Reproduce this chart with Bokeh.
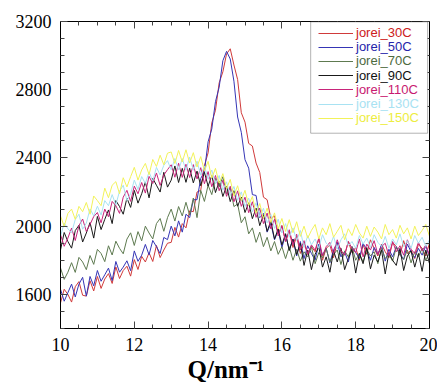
from bokeh.plotting import figure
from bokeh.models import (LinearAxis, SingleIntervalTicker, Range1d, Legend,
                          LegendItem, BoxAnnotation, CustomJSTickFormatter, Title)
from bokeh.embed import file_html
from bokeh.resources import INLINE

# Q grid (nm^-1)
q = [round(10 + 0.1 * i, 1) for i in range(101)]

labels = ["jorei_30C", "jorei_50C", "jorei_70C", "jorei_90C",
          "jorei_110C", "jorei_130C", "jorei_150C"]

s30 = [1550, 1630, 1600, 1555, 1645, 1675, 1595, 1590, 1680, 1620,
       1705, 1635, 1690, 1722, 1664, 1761, 1693, 1740, 1765, 1707,
       1804, 1746, 1823, 1790, 1844, 1793, 1887, 1816, 1860, 1900,
       1905, 1993, 1936, 2015, 1990, 2090, 2085, 2200, 2210, 2355,
       2430, 2605, 2680, 2840, 2905, 3010, 3040, 2945, 2860, 2665,
       2610, 2485, 2470, 2370, 2315, 2170, 2155, 2045, 2060, 1955,
       2005, 1910, 1970, 1875, 1940, 1840,
       1900, 1835, 1880, 1850, 1925, 1800, 1870, 1890, 1815, 1905,
       1860, 1830, 1910, 1845, 1875, 1800, 1890, 1835, 1920, 1870,
       1825, 1895, 1850, 1815, 1905, 1880, 1830, 1915, 1840, 1860,
       1810, 1895, 1870, 1825, 1900]

s50 = [1630, 1560, 1610, 1660, 1585, 1660, 1700, 1590, 1705, 1650,
       1740, 1677, 1715, 1754, 1681, 1793, 1730, 1760, 1797, 1739,
       1855, 1794, 1830, 1893, 1832, 1916, 1880, 1840, 1934, 1921,
       2000, 1943, 2031, 1965, 2070, 2050, 2155, 2155, 2280, 2320,
       2495, 2570, 2730, 2815, 2970, 3025, 2980, 2850, 2640, 2550,
       2390, 2340, 2185, 2180, 2050, 2075, 1965, 2015, 1920, 1975,
       1875, 1950, 1860, 1925, 1825, 1910,
       1810, 1885, 1840, 1800, 1895, 1830, 1870, 1785, 1860, 1905,
       1820, 1850, 1790, 1880, 1845, 1810, 1900, 1860, 1800, 1875,
       1835, 1890, 1795, 1865, 1820, 1880, 1840, 1805, 1895, 1850,
       1815, 1870, 1830, 1885, 1820]

s70 = [1755, 1688, 1730, 1786, 1729, 1817, 1790, 1745, 1828, 1776,
       1864, 1840, 1792, 1885, 1831, 1912, 1870, 1838, 1924, 1961,
       1887, 1968, 1914, 2000, 1960, 1925, 2015, 2045, 1970, 2050,
       2100, 2030, 2115, 2060, 2140, 2065, 2165, 2050, 2210, 2145,
       2240, 2185, 2280, 2230, 2290, 2190, 2225, 2115, 2130, 2020,
       2055, 1955, 1990, 1905, 1965, 1880, 1935, 1855, 1910, 1835,
       1880, 1810, 1880, 1800,
       1865, 1795, 1850, 1820, 1880, 1780, 1845, 1815, 1870, 1790,
       1835, 1860, 1775, 1855, 1820, 1880, 1800, 1840, 1790, 1865,
       1825, 1850, 1780, 1870, 1810, 1835, 1795, 1875, 1830, 1805,
       1860, 1785, 1850, 1820, 1870, 1800, 1845]

s90 = [1860, 1963, 1910, 1871, 1974, 2005, 1907, 1960, 2021, 1930,
       2057, 1980, 2040, 2095, 2015, 2150, 2115, 2070, 2165, 2110,
       2210, 2135, 2190, 2259, 2166, 2280, 2240, 2200, 2316, 2229,
       2270, 2353, 2256, 2339, 2257, 2340, 2254, 2323, 2237, 2316,
       2235, 2296, 2197, 2263, 2174, 2235, 2144, 2208, 2117, 2171,
       2080, 2137, 2044, 2106, 2003, 2065, 1970, 2030, 1925, 1985,
       1890, 1956, 1857, 1923, 1834, 1900,
       1770, 1860, 1745, 1835, 1880, 1760, 1820, 1730, 1855, 1790,
       1870, 1745, 1810, 1865, 1725, 1840, 1780, 1875, 1750, 1830,
       1790, 1860, 1720, 1845, 1800, 1770, 1870, 1740, 1825, 1855,
       1760, 1840, 1735, 1860, 1780]

s110 = [1950, 1882, 1930, 1989, 1916, 2003, 2042, 1969, 2010, 2056,
        2080, 2020, 2100, 2055, 2145, 2120, 2075, 2170, 2210, 2145,
        2235, 2190, 2256, 2194, 2292, 2250, 2312, 2239, 2300, 2331,
        2360, 2287, 2369, 2286, 2363, 2285, 2361, 2277, 2343, 2249,
        2320, 2231, 2297, 2208, 2269, 2175, 2234, 2143, 2207, 2116,
        2170, 2079, 2143, 2052, 2106, 2015, 2077, 1984, 2041, 1943,
        2000, 1912, 1979, 1891, 1953, 1860,
        1915, 1835, 1890, 1860, 1930, 1825, 1880, 1905, 1840, 1920,
        1855, 1830, 1910, 1870, 1845, 1925, 1820, 1895, 1860, 1915,
        1835, 1880, 1900, 1825, 1910, 1850, 1885, 1830, 1920, 1865,
        1840, 1905, 1855, 1890, 1830]

s130 = [1940, 2018, 1985, 1961, 2039, 2070, 1982, 2018, 2101, 2060,
        2117, 2065, 2150, 2120, 2185, 2125, 2205, 2240, 2150, 2190,
        2270, 2215, 2291, 2250, 2318, 2264, 2345, 2300, 2357, 2384,
        2330, 2397, 2329, 2396, 2328, 2405, 2328, 2381, 2299, 2352,
        2275, 2329, 2248, 2297, 2211, 2260, 2179, 2233, 2152, 2201,
        2115, 2164, 2083, 2137, 2056, 2105, 2019, 2068, 1987, 2041,
        1960, 2015, 1935, 1990, 1915, 1975,
        1875, 1945, 1890, 1925, 1870, 1950, 1900, 1880, 1940, 1865,
        1920, 1955, 1885, 1910, 1870, 1945, 1895, 1930, 1875, 1950,
        1905, 1880, 1940, 1870, 1925, 1890, 1955, 1880, 1915, 1870,
        1945, 1900, 1935, 1880, 1920]

s150 = [2060, 1999, 2075, 2100, 2040, 2116, 2085, 2139, 2070, 2177,
        2150, 2120, 2223, 2167, 2240, 2261, 2190, 2284, 2230, 2290,
        2345, 2270, 2330, 2368, 2302, 2391, 2350, 2416, 2360, 2428,
        2435, 2367, 2444, 2376, 2448, 2370, 2431, 2347, 2408, 2324,
        2380, 2282, 2339, 2251, 2308, 2220, 2274, 2178, 2237, 2151,
        2210, 2122, 2174, 2076, 2133, 2045, 2106, 2022, 2078, 1984,
        2045, 1969, 2038, 1962, 2026, 1940,
        2000, 1930, 1975, 2010, 1925, 1990, 1950, 2015, 1935, 1970,
        2005, 1920, 1985, 1945, 2010, 1960, 1930, 2000, 1940, 1995,
        1965, 1925, 2010, 1950, 1980, 1930, 2005, 1955, 1990, 1925,
        2000, 1945, 1975, 2010, 1940]

series = [s30, s50, s70, s90, s110, s130, s150]
line_colors = ["#d03a3a", "#3535b5", "#5e7a50", "#1a1a1a",
               "#c8247a", "#a8e2f2", "#f2f25a"]
text_colors = ["#cc2020", "#2525aa", "#4d6a3e", "#111111",
               "#c81870", "#a8e2f2", "#eded40"]

SERIF = "Liberation Serif"
SANS = "Liberation Sans"

p = figure(frame_width=369, frame_height=307,
           x_range=Range1d(10, 20), y_range=Range1d(1400, 3200),
           output_backend="svg", toolbar_location=None,
           min_border_left=60, min_border_right=8,
           min_border_top=21, min_border_bottom=50)
p.xgrid.visible = False
p.ygrid.visible = False
p.outline_line_color = "black"
p.background_fill_color = "white"
p.border_fill_color = "white"

p.xaxis.ticker = SingleIntervalTicker(interval=2, num_minor_ticks=4)
p.yaxis.ticker = SingleIntervalTicker(interval=400, num_minor_ticks=4)

def style_axis(ax, show_labels=True):
    ax.axis_line_color = "black"
    ax.major_tick_in = 7
    ax.major_tick_out = 0
    ax.minor_tick_in = 4
    ax.minor_tick_out = 0
    ax.major_tick_line_color = "#444444"
    ax.minor_tick_line_color = "#444444"
    ax.major_label_text_font = SERIF
    ax.major_label_text_color = "black"
    if show_labels:
        ax.major_label_text_font_size = "18px"
        ax.major_label_standoff = 9
    else:
        ax.formatter = CustomJSTickFormatter(code="return ''")
        ax.major_label_text_font_size = "8px"
        ax.major_label_standoff = 0

for ax in p.xaxis + p.yaxis:
    style_axis(ax)

top_ax = LinearAxis(ticker=SingleIntervalTicker(interval=2, num_minor_ticks=4))
right_ax = LinearAxis(ticker=SingleIntervalTicker(interval=400, num_minor_ticks=4))
style_axis(top_ax, False)
style_axis(right_ax, False)
p.add_layout(top_ax, "above")
p.add_layout(right_ax, "right")

# x-axis title (sits slightly left of the frame centre, as in the original)
xtitle = Title(text="Q/nm\u207b\u00b9", align="left", offset=127,
               standoff=0, text_font=SERIF, text_font_style="bold",
               text_font_size="25px", text_color="black")
p.add_layout(xtitle, "below")

renderers = []
for s, c in zip(series, line_colors):
    r = p.line(q, s, line_color=c, line_width=1)
    renderers.append(r)

box = BoxAnnotation(left=16.78, right=19.95, top=3198, bottom=2545,
                    fill_color="white", fill_alpha=1.0,
                    line_color="black", line_width=1)
p.add_layout(box)

frame_h = 307
for i, (lab, r, tc) in enumerate(zip(labels, renderers, text_colors)):
    yc = 12 + 14.2 * i          # row centre, px below frame top
    leg = Legend(items=[LegendItem(label=lab, renderers=[r])],
                 location=(258, frame_h - (yc + 7)),
                 padding=0, margin=0, spacing=0,
                 glyph_width=35, glyph_height=14, label_height=14,
                 label_standoff=3,
                 border_line_color=None, background_fill_alpha=0.0,
                 label_text_font=SANS, label_text_font_size="13px",
                 label_text_color=tc)
    p.add_layout(leg, "center")

open("out.html", "w").write(file_html(p, INLINE))
